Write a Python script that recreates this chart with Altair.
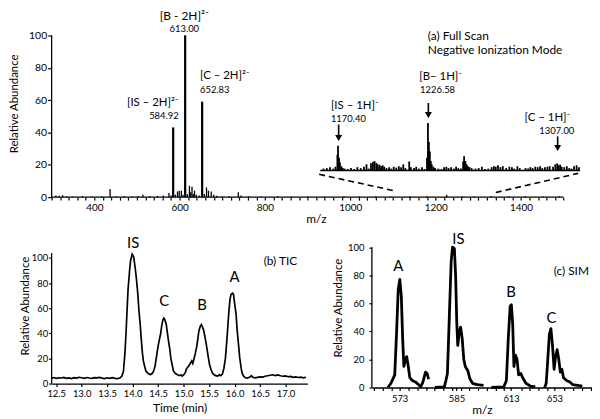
import altair as alt
import pandas as pd

FONT = "Lato"
BLACK = "#000000"

# ---------------- (a) full scan: main stick spectrum (m/z, relative abundance) -------------
fs_mz = [310, 318, 326, 336, 350, 372, 395, 418, 437, 452, 470, 488, 503, 514, 530, 548, 562,
         575, 580, 584.92, 590, 595, 599, 604, 608, 613, 618, 623, 626, 629, 632, 635, 639, 646,
         652.83, 658, 663, 667.5, 674, 680, 687, 700, 716, 737.5, 744, 762, 790, 830, 862, 900,
         940, 985, 1020, 1060, 1095, 1140, 1180, 1226, 1262, 1290, 1330, 1372, 1410, 1452, 1490]
fs_int = [1.0, 0.8, 1.2, 0.6, 0.4, 0.5, 0.4, 0.5, 5.0, 0.5, 0.6, 0.4, 0.6, 1.5, 0.5, 0.8, 1.0,
          2.5, 1.0, 43, 1.5, 3.5, 4.0, 4.0, 1.5, 100, 2.0, 7.0, 3.0, 6.5, 2.0, 4.0, 1.5, 1.0,
          59, 2.0, 6.0, 4.0, 3.5, 1.5, 0.8, 0.5, 0.6, 3.0, 1.0, 0.5, 0.4, 0.5, 0.4, 0.5,
          0.4, 0.5, 0.4, 0.5, 0.4, 0.5, 0.6, 1.5, 0.5, 0.4, 0.5, 0.4, 0.5, 0.4, 0.5]

# inset: zoomed high-mass region (m/z, relative abundance, [B-1H]- = 100)
ins_mz = [1161.3, 1163.4, 1165.4, 1167.4, 1168.8, 1170.0, 1170.4, 1171.0, 1171.6, 1172.5,
          1173.4, 1174.5, 1176.5, 1178.5, 1180.5, 1182.5, 1184.6, 1186.6, 1188.2, 1189.6,
          1191.0, 1192.2, 1193.2, 1194.3, 1195.2, 1196.3, 1197.3, 1198.3, 1199.3, 1200.7,
          1202.3, 1203.7, 1205.2, 1206.8, 1208.4, 1209.8, 1211.2, 1212.5, 1214.9, 1215.9,
          1217.9, 1219.3, 1220.9, 1222.9, 1224.6, 1226.0, 1226.6, 1227.2, 1227.8, 1228.4,
          1229.0, 1230.0, 1231.0, 1233.1, 1235.1, 1236.7, 1238.1, 1239.5, 1241.1, 1242.8,
          1244.2, 1245.6, 1247.2, 1248.6, 1249.2, 1250.0, 1250.8, 1251.6, 1252.6, 1253.9,
          1256.3, 1258.3, 1260.3, 1262.3, 1264.3, 1266.4, 1267.8, 1269.0, 1270.4, 1271.9,
          1273.4, 1275.5, 1277.5, 1279.1, 1280.5, 1282.5, 1284.0, 1287.6, 1289.2, 1290.6,
          1292.0, 1293.7, 1295.2, 1296.7, 1298.1, 1299.7, 1301.3, 1302.7, 1304.8, 1306.2,
          1307.4, 1308.2, 1309.2, 1310.2, 1311.8, 1313.4, 1314.9, 1316.3, 1317.9, 1319.5,
          1321.0]
ins_int = [4, 5, 7, 4, 8, 33, 52, 27, 17, 9,
           5, 4, 3, 5, 3, 7, 5, 8, 13, 4,
           15, 18, 20, 16, 13, 12, 9, 11, 8, 5,
           7, 4, 8, 6, 9, 7, 13, 5, 19, 7,
           5, 8, 4, 7, 3, 27, 100, 60, 40, 20,
           13, 8, 5, 4, 3, 7, 8, 5, 7, 4,
           8, 5, 4, 19, 30, 20, 13, 9, 7, 5,
           4, 5, 8, 3, 4, 7, 9, 8, 11, 7,
           9, 5, 8, 7, 4, 9, 5, 5, 4, 7,
           5, 8, 7, 9, 5, 7, 8, 9, 8, 13,
           15, 11, 12, 8, 7, 9, 5, 4, 9, 11,
           7]
ins_range = [1159.3, 1321.7]

# annotations of panel (a): (text, m/z, abundance)
a_center = [("[B - 2H]²⁻", 611, 112.2)]
a_center_small = [("613.00", 611, 104.0)]
a_left = [("[C – 2H]²⁻", 647.7, 74.6), ("[IS – 1H]⁻", 954.5, 56.3), ("[B– 1H]⁻", 1161.4, 74.0)]
a_left_small = [("652.83", 647.7, 66.4), ("1170.40", 954.5, 48.3), ("1226.58", 1163.6, 66.0)]
a_right = [("[IS – 2H]²⁻", 597.7, 58.3), ("[C – 1H]⁻", 1515.9, 48.8)]
a_right_small = [("584.92", 597.7, 50.0), ("1307.00", 1525.0, 40.8)]
a_title = [("(a) Full Scan", 1181.8, 99.8), ("Negative Ionization Mode", 1181.8, 91.0)]
a_arrows = [(972.7, 44.9, 34.4), (1183.0, 58.2, 48.5), (1486.0, 37.6, 28.2)]  # x, top, tip
a_zoom_lines = [(927, 14.1, 1100, 4.1), (1341, 2.9, 1534, 14.7)]

# ---------------- (b) TIC chromatogram (time min, relative abundance) ----------------
tic_base_1 = [(12.41, 4.3), (12.45, 4.8), (12.50, 4.1), (12.55, 4.6), (12.60, 4.4), (12.65, 4.9),
              (12.70, 4.2), (12.75, 4.5), (12.80, 4.0), (12.85, 4.7), (12.90, 4.3), (12.95, 5.0),
              (13.00, 4.6), (13.05, 4.2), (13.10, 4.8), (13.15, 4.4), (13.20, 4.1), (13.25, 4.7),
              (13.30, 4.5), (13.35, 4.9), (13.40, 4.3), (13.45, 4.0), (13.50, 4.6), (13.55, 4.2),
              (13.60, 4.7), (13.65, 4.1), (13.70, 3.9), (13.75, 4.4)]
tic_IS = [(13.79, 6), (13.82, 10), (13.85, 25), (13.87, 40), (13.89, 58), (13.91, 75), (13.94, 90),
          (13.96, 98), (13.99, 103), (14.02, 101), (14.05, 92), (14.07, 85), (14.10, 72),
          (14.12, 60), (14.15, 46), (14.17, 35), (14.19, 25), (14.21, 18), (14.24, 13),
          (14.26, 10), (14.29, 8.5), (14.31, 8), (14.34, 7.2), (14.37, 7.5), (14.40, 9), (14.42, 11)]
tic_C = [(14.44, 14), (14.47, 22), (14.50, 30), (14.52, 34), (14.55, 40), (14.57, 46), (14.59, 50),
         (14.61, 52), (14.63, 51), (14.66, 47), (14.68, 41), (14.70, 35), (14.73, 27), (14.75, 20),
         (14.78, 14), (14.80, 10), (14.84, 8), (14.88, 7), (14.92, 6.3), (14.95, 7.0),
         (14.97, 6.0), (15.00, 6.8), (15.03, 8.5)]
tic_B = [(15.06, 12), (15.10, 14), (15.13, 16), (15.16, 18), (15.18, 16), (15.20, 19), (15.23, 24),
         (15.26, 30), (15.28, 36), (15.30, 42), (15.33, 46), (15.35, 47), (15.37, 45), (15.39, 43),
         (15.42, 37), (15.45, 30), (15.48, 22), (15.51, 15), (15.54, 11), (15.57, 8), (15.60, 7),
         (15.63, 6.3), (15.67, 6.0), (15.70, 7.0), (15.73, 6.2), (15.76, 7.5)]
tic_A = [(15.79, 12), (15.82, 20), (15.85, 35), (15.87, 47), (15.89, 58), (15.91, 67), (15.93, 71),
         (15.96, 72), (15.98, 71), (16.00, 64), (16.03, 55), (16.05, 43), (16.08, 30), (16.10, 21),
         (16.13, 12), (16.15, 8), (16.18, 5.8), (16.21, 4.6)]
tic_base_2 = [(16.25, 4.4), (16.30, 5.2), (16.33, 6.3), (16.36, 5.0), (16.40, 4.5), (16.45, 4.9),
              (16.50, 5.3), (16.55, 5.1), (16.60, 5.8), (16.65, 6.2), (16.70, 6.6), (16.75, 7.0),
              (16.80, 6.4), (16.85, 6.9), (16.90, 6.2), (16.95, 5.8), (17.00, 6.1), (17.05, 5.4),
              (17.10, 5.7), (17.15, 5.0), (17.20, 5.3), (17.25, 4.8), (17.30, 5.1), (17.35, 4.6),
              (17.40, 5.0)]
tic_ticks = [12.5, 13.0, 13.5, 14.0, 14.5, 15.0, 15.5, 16.0, 16.5, 17.0]
tic_labels = [("IS", 14.01, 111.7), ("C", 14.62, 65.5), ("B", 15.36, 62.3), ("A", 16.0, 85.2)]
tic_tag = [("(b) TIC", 16.9, 97.4)]

# ---------------- (c) SIM traces (scan position, relative abundance) ----------------
sim_A = [(17, 0), (20.3, 3), (24.3, 9), (26.3, 40), (28, 70), (29.7, 77), (31.3, 65), (32.7, 35),
         (34, 15), (35.7, 20), (37, 22), (38.7, 15), (40.3, 7), (43, 5), (46.3, 4), (49.7, 2),
         (52, 0.5), (54.3, 4), (57, 11), (58.7, 10), (60.3, 6)]
sim_IS = [(67, 0), (77, 0.5), (78.7, 5), (80.3, 10), (82.3, 50), (84.3, 90), (85.7, 100),
          (87.7, 99), (89, 80), (90.3, 45), (91.3, 30), (93, 40), (94.3, 43), (96, 35),
          (97.7, 20), (99.3, 15), (102, 12), (104.3, 6), (107, 3), (112, 2), (118.7, 1.5)]
sim_B = [(127, 0), (140.3, 0.5), (143, 5), (145, 35), (147, 58), (148.3, 59), (149.7, 45),
         (151, 15), (152.7, 23), (154.3, 20), (156, 9), (158.3, 10), (160.3, 7), (163.7, 3),
         (168.7, 1), (173.7, 0.5)]
sim_C = [(183.7, 0), (185.3, 3), (187, 20), (188.7, 38), (190.3, 42), (192, 30), (193.7, 13),
         (195.3, 22), (197, 27), (198.7, 20), (200.3, 11), (202, 13), (203.7, 7), (207, 5),
         (210.3, 4), (213.7, 2), (218.7, 1.5), (223.7, 1)]
sim_tick_pos = [29.5, 90, 148, 194]
sim_tick_lab = ["573", "585", "613", "653"]
sim_labels = [("A", 28, 86.7), ("IS", 92, 105.8), ("B", 148, 68.0), ("C", 191, 49.4)]
sim_tag = [("(c) SIM", 212, 83.2)]

# ---------------- scales / sizes ----------------
MZ_DOM = [300, 1538.6]
MZ_AXIS = [300, 1500]
TOP_Y = [0, 115.9]
INS_X = [991.4, 1321.7]
INS_Y = [-56, 338.0]
TIC_X = [12.41, 17.43]
TIC_Y = [0, 124]
SIM_X = [0, 234]
SIM_Y = [0, 113.8]

xs_a = alt.Scale(domain=MZ_DOM, nice=False, zero=False)
ys_a = alt.Scale(domain=TOP_Y, nice=False, zero=False)
xs_i = alt.Scale(domain=INS_X, nice=False, zero=False)
ys_i = alt.Scale(domain=INS_Y, nice=False, zero=False)
xs_b = alt.Scale(domain=TIC_X, nice=False, zero=False)
ys_b = alt.Scale(domain=TIC_Y, nice=False, zero=False)
xs_c = alt.Scale(domain=SIM_X, nice=False, zero=False)
ys_c = alt.Scale(domain=SIM_Y, nice=False, zero=False)

AX = dict(labelFont=FONT, titleFont=FONT, labelColor=BLACK, titleColor=BLACK, tickColor=BLACK,
          domainColor=BLACK, titleFontWeight="normal", grid=False, labelOverlap=False,
          tickWidth=1.2, tickCount=200)
Y_TICKS = [0, 20, 40, 60, 80, 100]

top_x_vals = list(range(300, 1501, 20))
ax_a_x = alt.Axis(values=top_x_vals, format="d", title="m/z", domain=False, tickSize=3,
                  labelFontSize=10, labelPadding=2, titleFontSize=12, titlePadding=2,
                  labelExpr="(datum.value % 200 == 0 && datum.value >= 400 && datum.value <= 1400) ? datum.label : ''",
                  **AX)
ax_a_y = alt.Axis(values=Y_TICKS, format="d", title="Relative Abundance", domain=False,
                  tickSize=4, labelFontSize=10.5, labelPadding=1, titleFontSize=11.5,
                  titlePadding=9, **AX)
ax_b_x = alt.Axis(values=tic_ticks, format=".1f", title="Time (min)", tickSize=3, labelFontSize=9.5,
                  labelPadding=2, titleFontSize=12, titlePadding=5, domainWidth=1.3, **AX)
ax_b_y = alt.Axis(values=Y_TICKS, format="d", title="Relative Abundance", domain=False,
                  tickSize=3, labelFontSize=9.5, labelPadding=1, titleFontSize=11.5, titlePadding=1, **AX)


def text_layer(rows, xs, ys, ax_x, ax_y, align, size):
    df = pd.DataFrame(rows, columns=["label", "x", "y"])
    return alt.Chart(df).mark_text(align=align, baseline="middle", fontSize=size, font=FONT,
                                   color=BLACK).encode(
        x=alt.X("x:Q", scale=xs, axis=ax_x), y=alt.Y("y:Q", scale=ys, axis=ax_y), text="label:N")


def y_rule(xs, ys, ax_x, ax_y, x0, y1):
    df = pd.DataFrame({"x": [x0], "y": [0], "y2": [y1]})
    return alt.Chart(df).mark_rule(color=BLACK, strokeWidth=1.3).encode(
        x=alt.X("x:Q", scale=xs, axis=ax_x), y=alt.Y("y:Q", scale=ys, axis=ax_y), y2="y2:Q")


# ---------------- panel (a) ----------------
df_fs = pd.DataFrame({"mz": fs_mz, "ab": fs_int})
XA = dict(scale=xs_a, axis=ax_a_x)
YA = dict(scale=ys_a, axis=ax_a_y)
sticks = alt.Chart(df_fs).mark_rule(color=BLACK, strokeWidth=1.3).encode(
    x=alt.X("mz:Q", **XA), y=alt.Y("ab:Q", **YA), y2=alt.datum(0))
big = alt.Chart(df_fs).transform_filter("datum.ab > 20").mark_rule(color=BLACK, strokeWidth=2.2).encode(
    x=alt.X("mz:Q", **XA), y=alt.Y("ab:Q", **YA), y2=alt.datum(0))
x_line = alt.Chart(pd.DataFrame({"x": [MZ_AXIS[0]], "x2": [MZ_AXIS[1]], "y": [0]})).mark_rule(
    color=BLACK, strokeWidth=1.3).encode(x=alt.X("x:Q", **XA), x2="x2:Q", y=alt.Y("y:Q", **YA))
ya_line = y_rule(xs_a, ys_a, ax_a_x, ax_a_y, MZ_AXIS[0], 100)

df_zoom = pd.DataFrame(a_zoom_lines, columns=["x", "y", "x2", "y2"])
zoom_lines = alt.Chart(df_zoom).mark_rule(color=BLACK, strokeWidth=1.6, strokeDash=[6, 4]).encode(
    x=alt.X("x:Q", **XA), y=alt.Y("y:Q", **YA), x2="x2:Q", y2="y2:Q")

df_arr = pd.DataFrame(a_arrows, columns=["x", "top", "tip"])
shafts = alt.Chart(df_arr).transform_calculate(end="datum.tip + 3").mark_rule(
    color=BLACK, strokeWidth=1.6).encode(x=alt.X("x:Q", **XA), y=alt.Y("top:Q", **YA), y2="end:Q")
heads = alt.Chart(df_arr).transform_calculate(h="datum.tip + 2.2").mark_point(
    shape="triangle-down", filled=True, size=50, color=BLACK, opacity=1).encode(
    x=alt.X("x:Q", **XA), y=alt.Y("h:Q", **YA))


def ta(rows, align, size):
    return text_layer(rows, xs_a, ys_a, ax_a_x, ax_a_y, align, size)


main_a = alt.layer(
    sticks, big, x_line, ya_line, zoom_lines, shafts, heads,
    ta(a_center, "center", 12), ta(a_center_small, "center", 9.5),
    ta(a_left, "left", 11.5), ta(a_left_small, "left", 9.5),
    ta(a_right, "right", 11.5), ta(a_right_small, "right", 9.5),
    ta(a_title, "left", 12),
)

df_ins = pd.DataFrame({"mz": ins_mz, "ab": ins_int})
ins_sticks = alt.Chart(df_ins).mark_rule(color=BLACK, strokeWidth=1.8).encode(
    x=alt.X("mz:Q", scale=xs_i, axis=None), y=alt.Y("ab:Q", scale=ys_i, axis=None), y2=alt.datum(0))
ins_base = alt.Chart(pd.DataFrame({"x": [ins_range[0]], "x2": [ins_range[1]], "y": [0]})).mark_rule(
    color=BLACK, strokeWidth=1.5).encode(
    x=alt.X("x:Q", scale=xs_i, axis=None), x2="x2:Q", y=alt.Y("y:Q", scale=ys_i, axis=None))
inset = alt.layer(ins_sticks, ins_base)

top = alt.layer(main_a, inset).resolve_scale(x="independent", y="independent").properties(
    width=533, height=189)

# ---------------- panel (b) ----------------
tic_pts = tic_base_1 + tic_IS + tic_C + tic_B + tic_A + tic_base_2
df_tic = pd.DataFrame(tic_pts, columns=["t", "ab"])
tic_line = alt.Chart(df_tic).mark_line(color=BLACK, strokeWidth=1.7).encode(
    x=alt.X("t:Q", scale=xs_b, axis=ax_b_x), y=alt.Y("ab:Q", scale=ys_b, axis=ax_b_y))
tic = alt.layer(
    tic_line, y_rule(xs_b, ys_b, ax_b_x, ax_b_y, TIC_X[0], 104),
    text_layer(tic_labels, xs_b, ys_b, ax_b_x, ax_b_y, "center", 15),
    text_layer(tic_tag, xs_b, ys_b, ax_b_x, ax_b_y, "center", 12),
).properties(width=258, height=157)

# ---------------- panel (c) ----------------
rows = []
for name, seg in [("A", sim_A), ("IS", sim_IS), ("B", sim_B), ("C", sim_C)]:
    for p, v in seg:
        rows.append({"pos": p, "ab": v, "seg": name})
df_sim = pd.DataFrame(rows)
sim_minor = [2.5 + 9.2 * k for k in range(26)]
sim_vals = sorted(set(sim_tick_pos + [m for m in sim_minor if min(abs(m - p) for p in sim_tick_pos) > 3]))
sim_expr = "''"
for p, l in zip(sim_tick_pos, sim_tick_lab):
    sim_expr = f"datum.value == {p} ? '{l}' : ({sim_expr})"
ax_c_x = alt.Axis(values=sim_vals, labelExpr=sim_expr, title="m/z", tickSize=3, labelFontSize=9.5,
                  labelPadding=3, titleFontSize=12, titlePadding=2, domainWidth=1.3, **AX)
ax_c_y = alt.Axis(values=Y_TICKS, format="d", title="Relative Abundance", domain=False,
                  tickSize=3, labelFontSize=9.5, labelPadding=5, titleFontSize=11.5, titlePadding=4, **AX)
sim_line = alt.Chart(df_sim).mark_line(color=BLACK, strokeWidth=2.8, strokeJoin="round").encode(
    x=alt.X("pos:Q", scale=xs_c, axis=ax_c_x), y=alt.Y("ab:Q", scale=ys_c, axis=ax_c_y),
    detail="seg:N")
sim = alt.layer(
    sim_line, y_rule(xs_c, ys_c, ax_c_x, ax_c_y, SIM_X[0], 100),
    text_layer(sim_labels, xs_c, ys_c, ax_c_x, ax_c_y, "center", 15),
    text_layer(sim_tag, xs_c, ys_c, ax_c_x, ax_c_y, "center", 12),
).properties(width=222, height=161)

bottom = alt.hconcat(tic, sim, spacing=23)
chart = alt.vconcat(top, bottom, spacing=3).properties(padding=0).configure_view(stroke=None)

chart.save("out.html", embed_options={"renderer": "svg", "actions": False})
